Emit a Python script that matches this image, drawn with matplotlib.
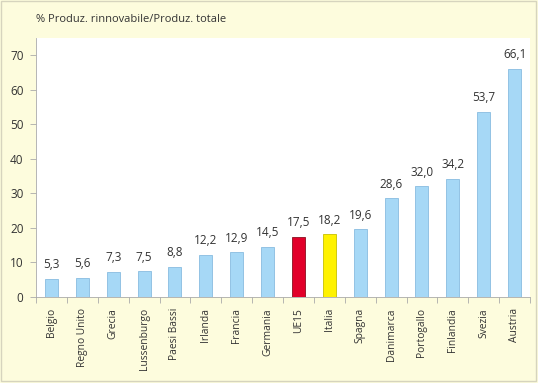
import matplotlib
matplotlib.use("Agg")
import matplotlib.pyplot as plt
from matplotlib.patches import Rectangle

categories = ["Belgio", "Regno Unito", "Grecia", "Lussenburgo", "Paesi Bassi", "Irlanda",
              "Francia", "Germania", "UE15", "Italia", "Spagna", "Danimarca",
              "Portogallo", "Finlandia", "Svezia", "Austria"]
values = [5.3, 5.6, 7.3, 7.5, 8.8, 12.2, 12.9, 14.5, 17.5, 18.2, 19.6, 28.6, 32.0, 34.2, 53.7, 66.1]
highlight = {"UE15": "#E2002A", "Italia": "#FFF200"}
title = "% Produz. rinnovabile/Produz. totale"
yticks = [0, 10, 20, 30, 40, 50, 60, 70]

plt.rcParams['font.family'] = ['Open Sans', 'DejaVu Sans']
W, H = 538, 383
fig = plt.figure(figsize=(W/100, H/100), dpi=100)
fig.patch.set_facecolor("#FDFCDD")

left, right, top, bottom = 36, 530, 38, 297
ax = fig.add_axes([left/W, 1 - bottom/H, (right-left)/W, (bottom-top)/H])
ax.set_facecolor("white")

colors = [highlight.get(c, "#A6D8F6") for c in categories]
edges = ["#8A1020" if c == "UE15" else ("#C8C000" if c == "Italia" else "#88BCE0") for c in categories]
x = list(range(len(categories)))
ax.bar(x, values, width=0.42, color=colors, edgecolor=edges, linewidth=0.6, zorder=2)
for xi, v in zip(x, values):
    ax.text(xi, v + 2.2, f"{v:.1f}".replace(".", ","), ha="center", va="bottom",
            fontsize=8.5, color="#333333")

ax.set_xlim(-0.5, len(categories) - 0.5)
ax.set_ylim(0, 75)
ax.set_yticks(yticks)
ax.set_yticklabels([str(t) for t in yticks], fontsize=8.5, color="#333333")
ax.set_xticks(x)
ax.set_xticklabels(categories, rotation=90, fontsize=7.4, color="#333333")
ax.tick_params(axis="x", length=0, pad=8)
ax.set_xticks([i + 0.5 for i in range(-1, len(categories))], minor=True)
ax.tick_params(axis="x", which="minor", length=4, color="#AAAAAA", width=0.6)
ax.tick_params(axis="y", length=4, color="#AAAAAA", width=0.6, pad=5)
for s in ["top", "right"]:
    ax.spines[s].set_visible(False)
for s in ["left", "bottom"]:
    ax.spines[s].set_color("#AAAAAA")
    ax.spines[s].set_linewidth(0.6)

fig.text(36/W, 1 - 19/H, title, ha="left", va="center", fontsize=8, color="#333333")

fig.patches.append(Rectangle((1/W, 1 - 381/H), 535/W, 380/H, transform=fig.transFigure,
                             fill=False, edgecolor="#D6D4BE", linewidth=1.0))

fig.savefig("out.png", dpi=100, facecolor=fig.get_facecolor())
